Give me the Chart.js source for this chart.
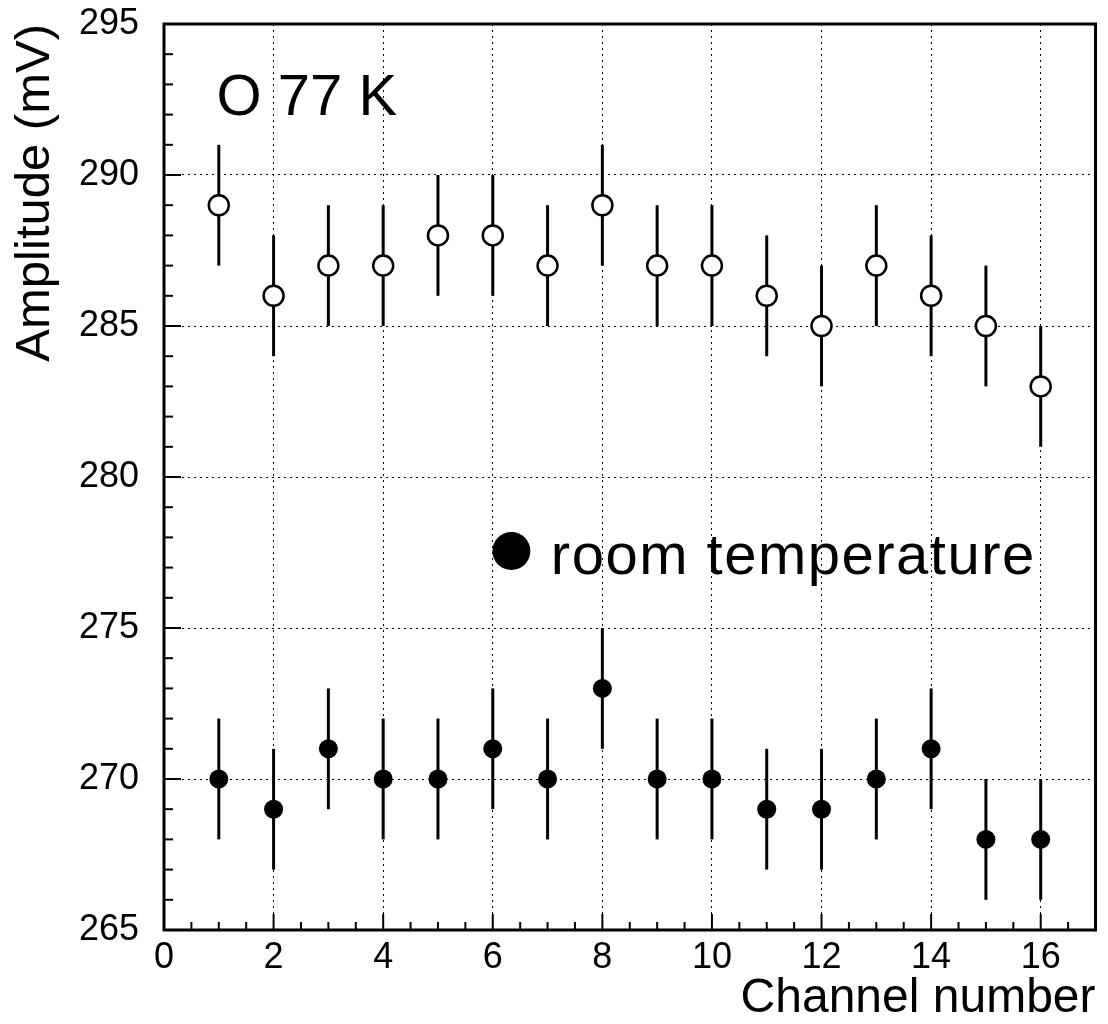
<!DOCTYPE html>
<html>
<head>
<meta charset="utf-8">
<script src="https://cdn.jsdelivr.net/npm/chart.js@4.4.1/dist/chart.umd.min.js"></script>
<style>
  html, body { margin: 0; background: #fff; }
</style>
</head>
<body>
<canvas id="chart" width="1108" height="1024"></canvas>
<script>
// channel numbers and measured amplitudes (mV)
const channels = [1, 2, 3, 4, 5, 6, 7, 8, 9, 10, 11, 12, 13, 14, 15, 16]
const amp77K = [289, 286, 287, 287, 288, 288, 287, 289, 287, 287, 286, 285, 287, 286, 285, 283]
const err77K = [2, 2, 2, 2, 2, 2, 2, 2, 2, 2, 2, 2, 2, 2, 2, 2]
const ampRoom = [270, 269, 271, 270, 270, 271, 270, 273, 270, 270, 269, 269, 270, 271, 268, 268]
const errRoom = [2, 2, 2, 2, 2, 2, 2, 2, 2, 2, 2, 2, 2, 2, 2, 2]

const xTickValues = [0, 2, 4, 6, 8, 10, 12, 14, 16]
const yTickValues = [265, 270, 275, 280, 285, 290, 295]
const xMinorStep = 0.5
const yMinorStep = 1

const FONT = '"Liberation Sans", Arial, sans-serif'

const toPoints = (ys, errs) => channels.map((c, i) => ({ x: c, y: ys[i], err: errs[i] }))

const errorBars = {
  id: 'errorBars',
  beforeDatasetsDraw(chart) {
    const { ctx, scales: { x, y } } = chart
    ctx.save()
    ctx.strokeStyle = '#000'
    ctx.lineWidth = 3
    chart.data.datasets.forEach(ds => {
      ds.data.forEach(p => {
        const px = x.getPixelForValue(p.x)
        ctx.beginPath()
        ctx.moveTo(px, y.getPixelForValue(p.y - p.err))
        ctx.lineTo(px, y.getPixelForValue(p.y + p.err))
        ctx.stroke()
      })
    })
    ctx.restore()
  }
}

const frameAndTicks = {
  id: 'frameAndTicks',
  afterDraw(chart) {
    const { ctx, chartArea: a, scales: { x, y } } = chart
    ctx.save()
    ctx.strokeStyle = '#000'

    // inward ticks on bottom axis
    ctx.lineWidth = 2
    for (let v = x.min; v <= x.max + 1e-9; v += xMinorStep) {
      const px = x.getPixelForValue(v)
      const len = xTickValues.includes(v) ? 16 : 8
      ctx.beginPath()
      ctx.moveTo(px, a.bottom)
      ctx.lineTo(px, a.bottom - len)
      ctx.stroke()
    }
    // inward ticks on left axis
    for (let v = y.min; v <= y.max + 1e-9; v += yMinorStep) {
      const py = y.getPixelForValue(v)
      const len = yTickValues.includes(v) ? 17 : 9
      ctx.beginPath()
      ctx.moveTo(a.left, py)
      ctx.lineTo(a.left + len, py)
      ctx.stroke()
    }

    // frame
    ctx.lineWidth = 3
    ctx.strokeRect(a.left, a.top, a.right - a.left, a.bottom - a.top)

    // labels inside the plot
    ctx.fillStyle = '#000'
    ctx.textBaseline = 'alphabetic'
    ctx.textAlign = 'left'
    ctx.font = '58px ' + FONT
    ctx.letterSpacing = '0px'
    ctx.fillText('O 77 K', x.getPixelForValue(0.96), y.getPixelForValue(292))

    ctx.beginPath()
    ctx.arc(x.getPixelForValue(6.34), y.getPixelForValue(277.55), 19, 0, Math.PI * 2)
    ctx.fill()
    ctx.letterSpacing = '1.5px'
    ctx.fillText('room temperature', x.getPixelForValue(7.06), y.getPixelForValue(276.8))
    ctx.restore()
  }
}

new Chart(document.getElementById('chart'), {
  type: 'scatter',
  data: {
    datasets: [
      {
        label: '77 K',
        data: toPoints(amp77K, err77K),
        pointRadius: 10,
        pointBorderWidth: 2.5,
        pointBackgroundColor: '#fff',
        pointBorderColor: '#000'
      },
      {
        label: 'room temperature',
        data: toPoints(ampRoom, errRoom),
        pointRadius: 9.5,
        pointBorderWidth: 0,
        pointBackgroundColor: '#000',
        pointBorderColor: '#000'
      }
    ]
  },
  options: {
    responsive: false,
    animation: false,
    layout: { padding: { top: 24, right: 5, left: 0, bottom: 0 } },
    plugins: {
      legend: { display: false },
      tooltip: { enabled: false }
    },
    scales: {
      x: {
        type: 'linear',
        min: 0,
        max: 17,
        afterBuildTicks: s => { s.ticks = xTickValues.map(v => ({ value: v })) },
        afterFit: s => { s.height = 94; s.paddingLeft = 0; s.paddingRight = 0 },
        grid: { color: '#000', lineWidth: 1, drawTicks: false },
        border: { display: false, dash: [2, 4] },
        ticks: { color: '#000', padding: 6, maxRotation: 0, font: { family: FONT, size: 36 } },
        title: {
          display: true,
          text: 'Channel number',
          align: 'end',
          color: '#000',
          padding: { top: 0, bottom: -4 },
          font: { family: FONT, size: 48 }
        }
      },
      y: {
        type: 'linear',
        min: 265,
        max: 295,
        afterBuildTicks: s => { s.ticks = yTickValues.map(v => ({ value: v })) },
        afterFit: s => { s.width = 164; s.paddingTop = 0; s.paddingBottom = 0 },
        grid: { color: '#000', lineWidth: 1, drawTicks: false },
        border: { display: false, dash: [2, 4] },
        ticks: { color: '#000', padding: 25, font: { family: FONT, size: 36 } },
        title: {
          display: true,
          text: 'Amplitude (mV)',
          align: 'end',
          color: '#000',
          padding: { top: 6, bottom: 0 },
          font: { family: FONT, size: 49 }
        }
      }
    }
  },
  plugins: [errorBars, frameAndTicks]
})
</script>
</body>
</html>
